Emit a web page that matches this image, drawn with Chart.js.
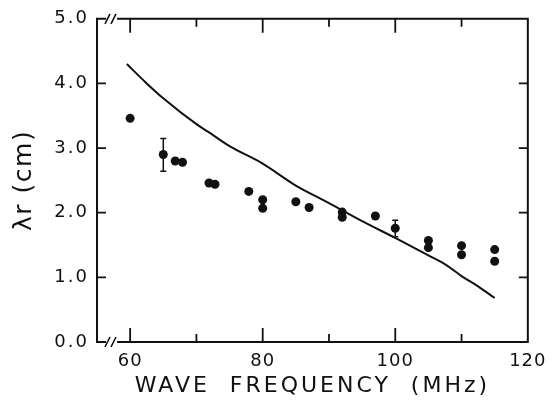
<!DOCTYPE html>
<html><head><meta charset="utf-8">
<script src="https://cdn.jsdelivr.net/npm/chart.js@4"></script>
<style>html,body{margin:0;padding:0;background:#fff}#wrap{width:554px;height:406px}</style>
</head><body><div id="wrap"><canvas id="c" width="554" height="406"></canvas></div>
<script>
// Measured data points
const freqs = [60, 65, 66.8, 67.9, 71.9, 72.8, 77.9, 80, 80, 85, 87, 92, 92, 97, 100, 105, 105, 110, 110, 115, 115];
const lambdas = [3.46, 2.90, 2.80, 2.78, 2.46, 2.44, 2.33, 2.20, 2.07, 2.17, 2.08, 2.01, 1.93, 1.95, 1.76, 1.57, 1.46, 1.49, 1.35, 1.43, 1.25];
// Error bars
const errFreqs = [65, 100];
const errLow = [2.64, 1.63];
const errHigh = [3.15, 1.885];
// Theory curve
const curveFreqs = [59.5, 62.3, 65, 70, 71.8, 75, 80, 85, 90, 95, 100, 105, 107.7, 110, 112.5, 115];
const curveVals = [4.30, 4.02, 3.77, 3.37, 3.25, 3.03, 2.76, 2.42, 2.15, 1.87, 1.61, 1.34, 1.19, 1.02, 0.86, 0.68];
// Ticks
const xTicks = [60, 70, 80, 90, 100, 110, 120];
const xLabeled = [60, 80, 100, 120];
const yTicks = [0, 1, 2, 3, 4, 5];

const FONT = "'DejaVu Sans', sans-serif";

function spaced(scale, labelSpacing, titleSpacing) {
  if (scale._spacedPatched) return;
  scale._spacedPatched = true;
  const dl = scale.drawLabels, dt = scale.drawTitle;
  scale.drawLabels = function (a) {
    const ctx = this.ctx; ctx.save(); ctx.letterSpacing = labelSpacing;
    dl.call(this, a); ctx.restore();
  };
  scale.drawTitle = function (a) {
    const ctx = this.ctx; ctx.save(); ctx.letterSpacing = titleSpacing;
    dt.call(this, a); ctx.restore();
  };
}

const framePlugin = {
  id: 'frame',
  afterDraw(chart) {
    const ctx = chart.ctx, xs = chart.scales.x, ys = chart.scales.y;
    const L = xs.left, R = xs.right, T = ys.top, B = ys.bottom;
    ctx.save();
    ctx.strokeStyle = '#111';
    ctx.lineWidth = 2;
    ctx.lineCap = 'butt';
    const bx0 = L + 9, bx1 = L + 20;
    ctx.beginPath();
    ctx.moveTo(L, T); ctx.lineTo(L, B);
    ctx.moveTo(R, T - 1); ctx.lineTo(R, B + 1);
    ctx.moveTo(L - 1, T); ctx.lineTo(bx0, T);
    ctx.moveTo(bx1, T); ctx.lineTo(R + 1, T);
    ctx.moveTo(L - 1, B); ctx.lineTo(bx0, B);
    ctx.moveTo(bx1, B); ctx.lineTo(R + 1, B);
    ctx.stroke();
    ctx.lineWidth = 1.6;
    ctx.beginPath();
    [T, B].forEach(yy => {
      [bx0 + 1.5, bx0 + 7.5].forEach(cx => {
        ctx.moveTo(cx - 2.5, yy + 5); ctx.lineTo(cx + 2.5, yy - 5);
      });
    });
    ctx.stroke();
    ctx.lineWidth = 1.8;
    ctx.beginPath();
    xTicks.forEach(v => {
      if (v >= 120) return;
      const px = xs.getPixelForValue(v);
      const len = (v % 20 === 0) ? 14 : 8;
      ctx.moveTo(px, B); ctx.lineTo(px, B - len);
      ctx.moveTo(px, T); ctx.lineTo(px, T + len);
    });
    yTicks.forEach(v => {
      if (v === 0 || v === 5) return;
      const py = ys.getPixelForValue(v);
      ctx.moveTo(L, py); ctx.lineTo(L + 9, py);
      ctx.moveTo(R, py); ctx.lineTo(R - 9, py);
    });
    ctx.stroke();
    ctx.lineWidth = 1.5;
    ctx.beginPath();
    errFreqs.forEach((f, i) => {
      const px = xs.getPixelForValue(f);
      const p1 = ys.getPixelForValue(errLow[i]), p2 = ys.getPixelForValue(errHigh[i]);
      ctx.moveTo(px, p1); ctx.lineTo(px, p2);
      ctx.moveTo(px - 3, p1); ctx.lineTo(px + 3, p1);
      ctx.moveTo(px - 3, p2); ctx.lineTo(px + 3, p2);
    });
    ctx.stroke();
    ctx.restore();
  }
};

new Chart(document.getElementById('c'), {
  type: 'scatter',
  data: {
    datasets: [
      {
        type: 'line',
        data: curveFreqs.map((f, i) => ({x: f, y: curveVals[i]})),
        borderColor: '#111', borderWidth: 2, pointRadius: 0,
        cubicInterpolationMode: 'monotone', fill: false
      },
      {
        data: freqs.map((f, i) => ({x: f, y: lambdas[i]})),
        backgroundColor: '#111', borderColor: '#111', pointRadius: 4.5, borderWidth: 0
      }
    ]
  },
  options: {
    responsive: false, animation: false, devicePixelRatio: 1,
    layout: {padding: {top: 16, right: 21, left: 0, bottom: 0}},
    plugins: {legend: {display: false}, tooltip: {enabled: false}},
    scales: {
      x: {
        type: 'linear', min: 55, max: 120,
        afterBuildTicks: s => { s.ticks = xTicks.map(v => ({value: v})); },
        afterFit: s => { s.height = 64; spaced(s, '1px', '3px'); },
        grid: {display: false, drawTicks: false}, border: {display: false},
        ticks: {
          autoSkip: false, maxRotation: 0, padding: 9, color: '#111',
          font: {family: FONT, size: 18},
          callback: v => xLabeled.includes(v) ? String(v) : ''
        },
        title: {display: true, text: 'WAVE  FREQUENCY  (MHz)', color: '#111',
          font: {family: FONT, size: 22}, padding: {top: 0, bottom: 7}}
      },
      y: {
        type: 'linear', min: 0, max: 5,
        afterBuildTicks: s => { s.ticks = yTicks.map(v => ({value: v})); },
        afterFit: s => { s.width = 97; spaced(s, '2px', '1.5px'); },
        grid: {display: false, drawTicks: false}, border: {display: false},
        ticks: {
          padding: 8, color: '#111', font: {family: FONT, size: 18},
          callback: v => Number(v).toFixed(1)
        },
        title: {display: true, text: 'λr (cm)', color: '#111',
          font: {family: FONT, size: 25}, padding: {top: 9, bottom: 0}}
      }
    }
  },
  plugins: [framePlugin]
});
</script>
</body></html>
